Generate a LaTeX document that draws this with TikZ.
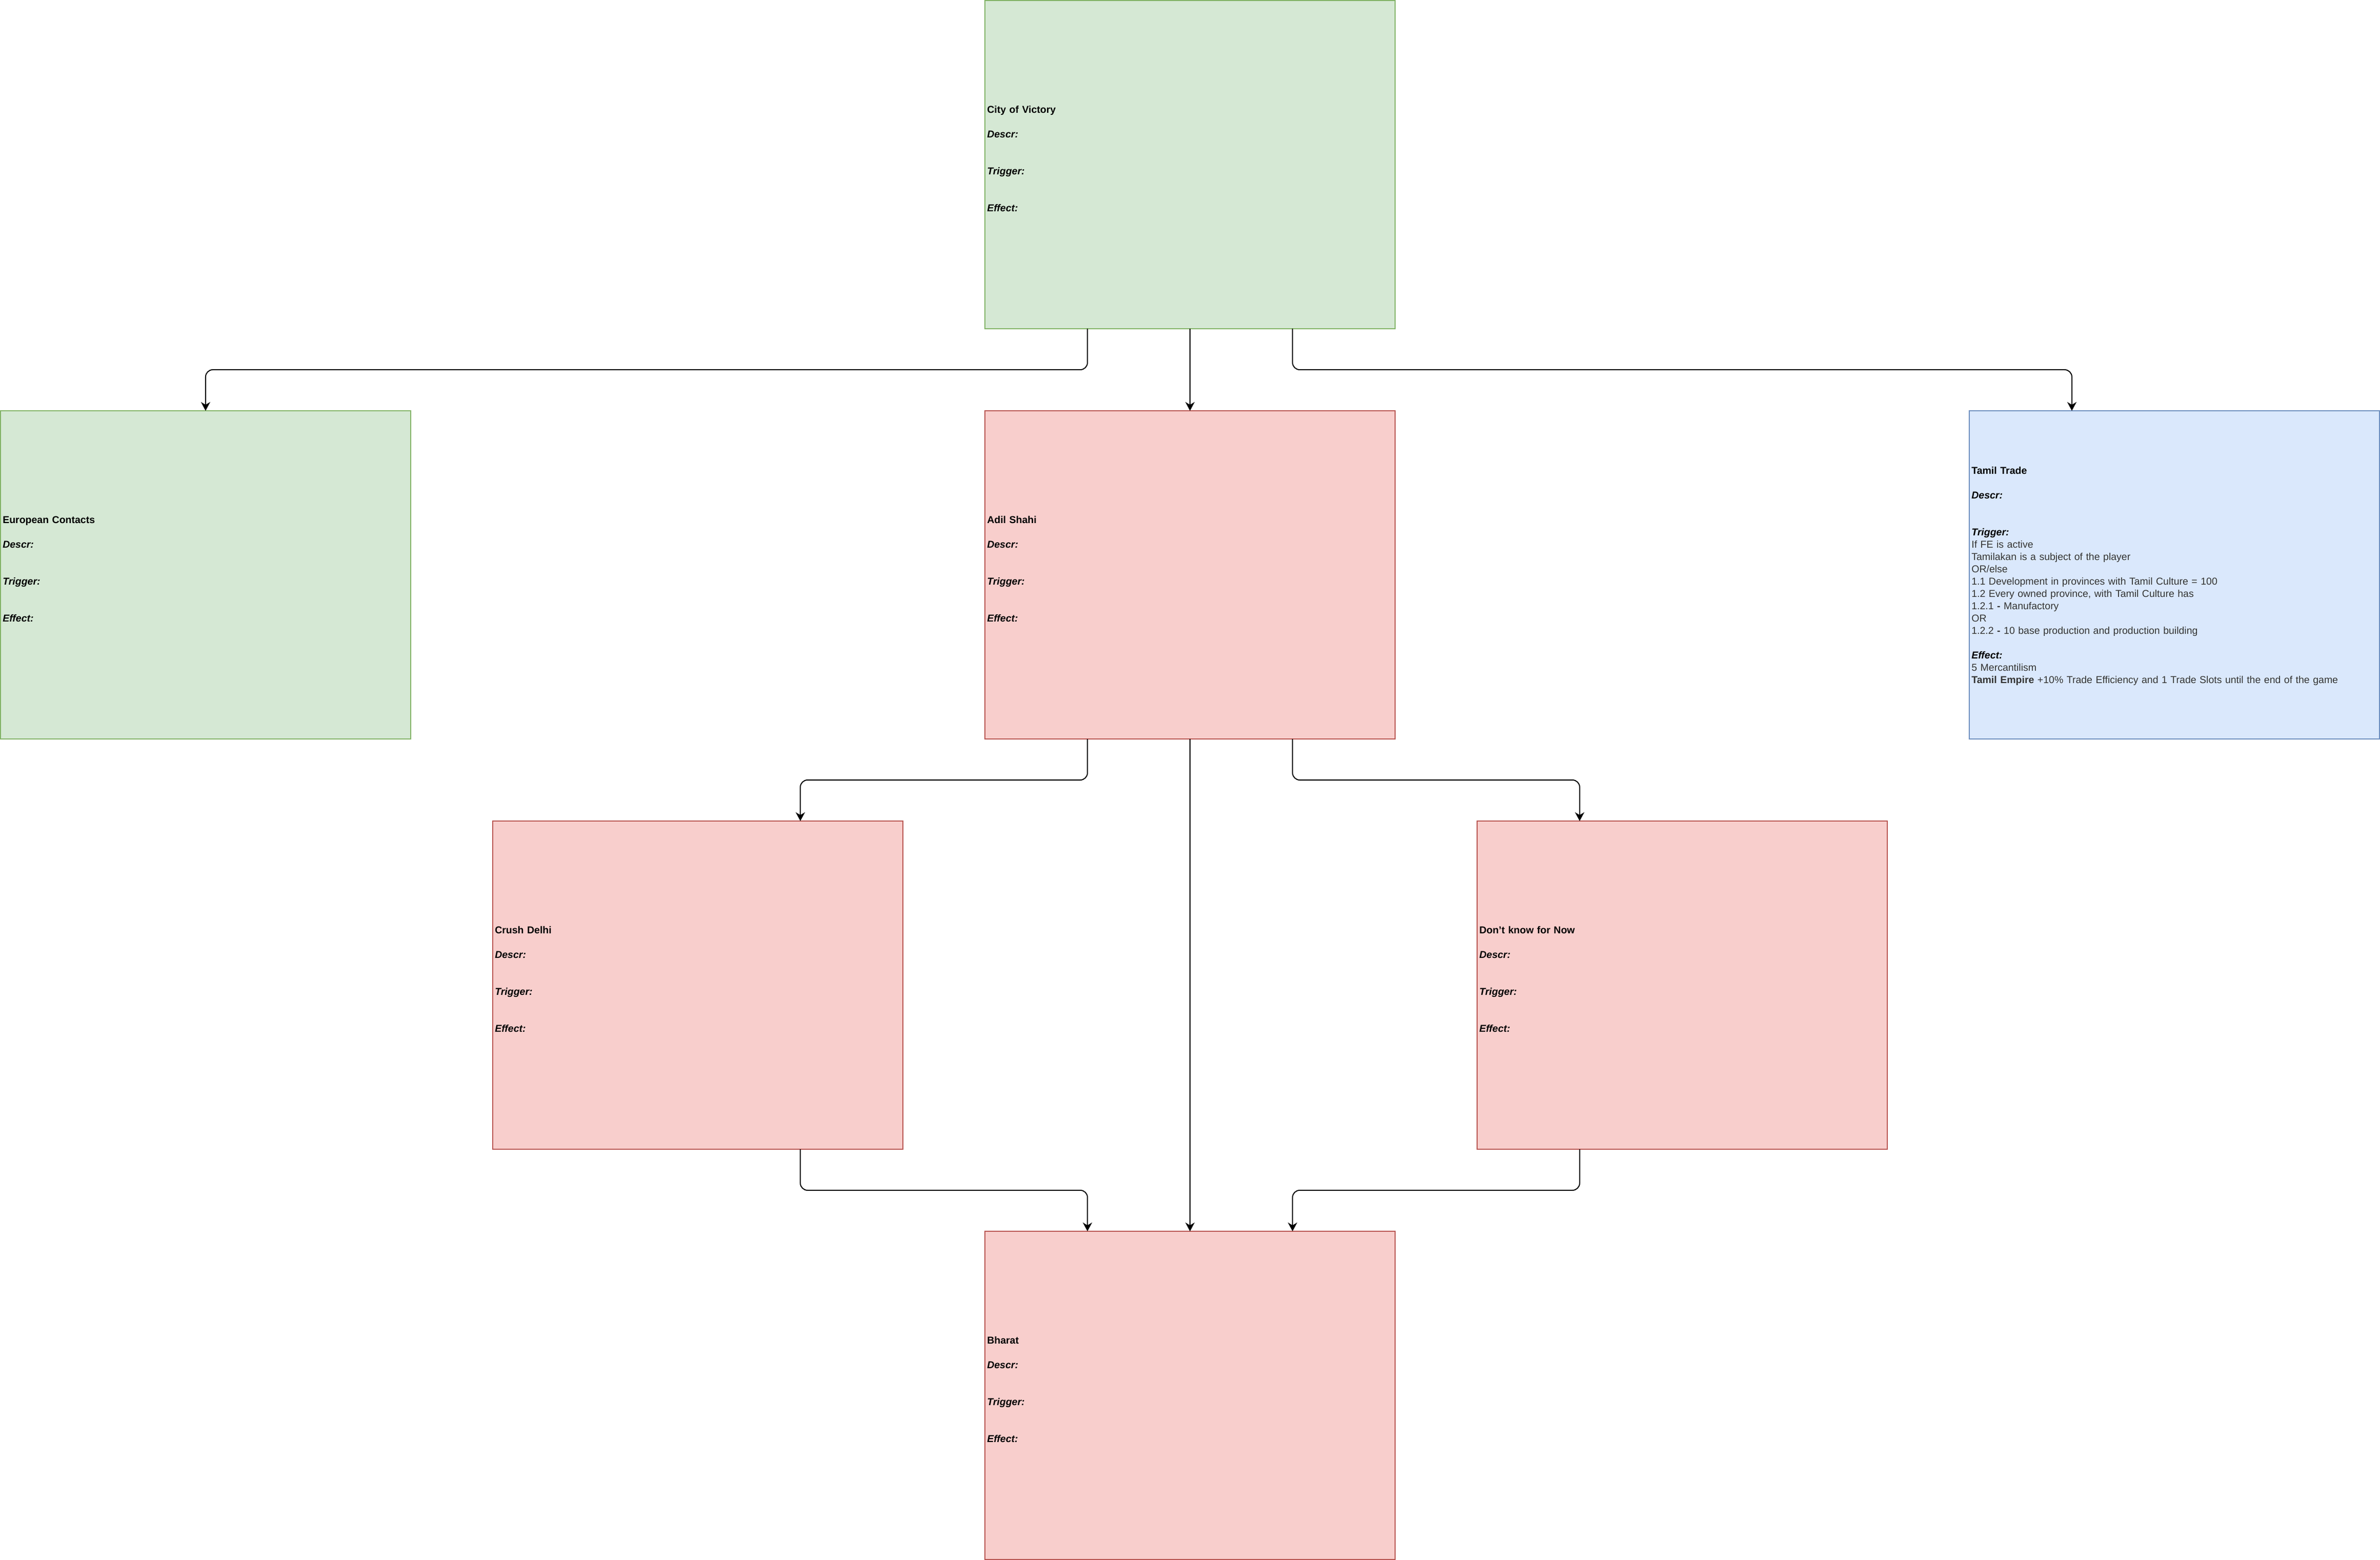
\documentclass[tikz,border=0pt]{standalone}
\usepackage{fontspec}
\setmainfont{Liberation Sans}
\usetikzlibrary{positioning,calc,arrows.meta}

\definecolor{greenfill}{RGB}{213,232,212}
\definecolor{greendraw}{RGB}{130,179,102}
\definecolor{redfill}{RGB}{248,206,204}
\definecolor{reddraw}{RGB}{184,84,80}
\definecolor{bluefill}{RGB}{218,232,252}
\definecolor{bluedraw}{RGB}{108,142,191}
\definecolor{bodygray}{RGB}{51,51,51}

% empty mission card
\newcommand{\card}[1]{\rule{0pt}{6.84pt}\textbf{#1}\\[7.2pt]
  \textbf{\textit{Descr:}}\\[14.4pt]
  \textbf{\textit{Trigger:}}\\[14.4pt]
  \textbf{\textit{Effect:}}\\\strut}
\newcommand{\bd}[1]{\textcolor{bodygray}{#1}}

\begin{document}
\begin{tikzpicture} [
        box/.style={rectangle, line width=0.6pt, outer sep=0pt,
            minimum width=240pt, minimum height=192pt, text width=237.4pt,
            inner xsep=1.3pt, align=left, font=\fontsize{5.85pt}{7.2pt}\selectfont},
        greenbox/.style={box, draw=greendraw, fill=greenfill},
        redbox/.style={box, draw=reddraw, fill=redfill},
        bluebox/.style={box, draw=bluedraw, fill=bluefill},
        link/.style={-{Stealth[length=5.1pt,width=5.4pt,inset=1.6pt]},
            line width=0.6pt, rounded corners=4.2pt},
        node distance=48pt ]
    \node[greenbox] (cov) {\card{City of Victory}};
    \node[redbox, below=of cov] (adil) {\card{Adil Shahi}};
    \node[greenbox, left=336pt of adil] (euro) {\card{European Contacts}};
    \node[bluebox, right=336pt of adil] (tamil) {\rule{0pt}{6.84pt}\textbf{Tamil Trade}\\[7.2pt]
        \textbf{\textit{Descr:}}\\[14.4pt]
        \textbf{\textit{Trigger:}}\\
        \bd{If FE is active}\\
        \bd{Tamilakan is a subject of the player}\\
        \bd{OR/else}\\
        \bd{1.1 Development in provinces with Tamil Culture = 100}\\
        \bd{1.2 Every owned province, with Tamil Culture has}\\
        \bd{1.2.1 \textbf{-} Manufactory}\\
        \bd{OR}\\
        \bd{1.2.2 \textbf{-} 10 base production and production building}\\[7.2pt]
        \textbf{\textit{Effect:}}\\
        \bd{5 Mercantilism}\\
        \bd{\textbf{Tamil Empire} +10\% Trade Efficiency and 1 Trade Slots until the end of the game}\strut};
    \node[redbox, below=of adil, xshift=-288pt] (delhi) {\card{Crush Delhi}};
    \node[redbox, below=of adil, xshift=288pt] (dunno) {\card{Don't know for Now}};
    \node[redbox, below=288pt of adil] (bharat) {\card{Bharat}};

    \path[use as bounding box] ($(euro.west |- cov.north)+(-0.3pt,0.3pt)$)
        rectangle ($(tamil.east |- bharat.south)+(0.3pt,-0.3pt)$);

    \draw[link] ($(cov.south west)!.25!(cov.south east)$) -- ++(0,-24pt) -| (euro.north);
    \draw[link] (cov) -- (adil);
    \draw[link] ($(cov.south west)!.75!(cov.south east)$) -- ++(0,-24pt)
        -| ($(tamil.north west)!.25!(tamil.north east)$);
    \draw[link] ($(adil.south west)!.25!(adil.south east)$) -- ++(0,-24pt)
        -| ($(delhi.north west)!.75!(delhi.north east)$);
    \draw[link] ($(adil.south west)!.75!(adil.south east)$) -- ++(0,-24pt)
        -| ($(dunno.north west)!.25!(dunno.north east)$);
    \draw[link] (adil) -- (bharat);
    \draw[link] ($(delhi.south west)!.75!(delhi.south east)$) -- ++(0,-24pt)
        -| ($(bharat.north west)!.25!(bharat.north east)$);
    \draw[link] ($(dunno.south west)!.25!(dunno.south east)$) -- ++(0,-24pt)
        -| ($(bharat.north west)!.75!(bharat.north east)$);
\end{tikzpicture}
\end{document}
